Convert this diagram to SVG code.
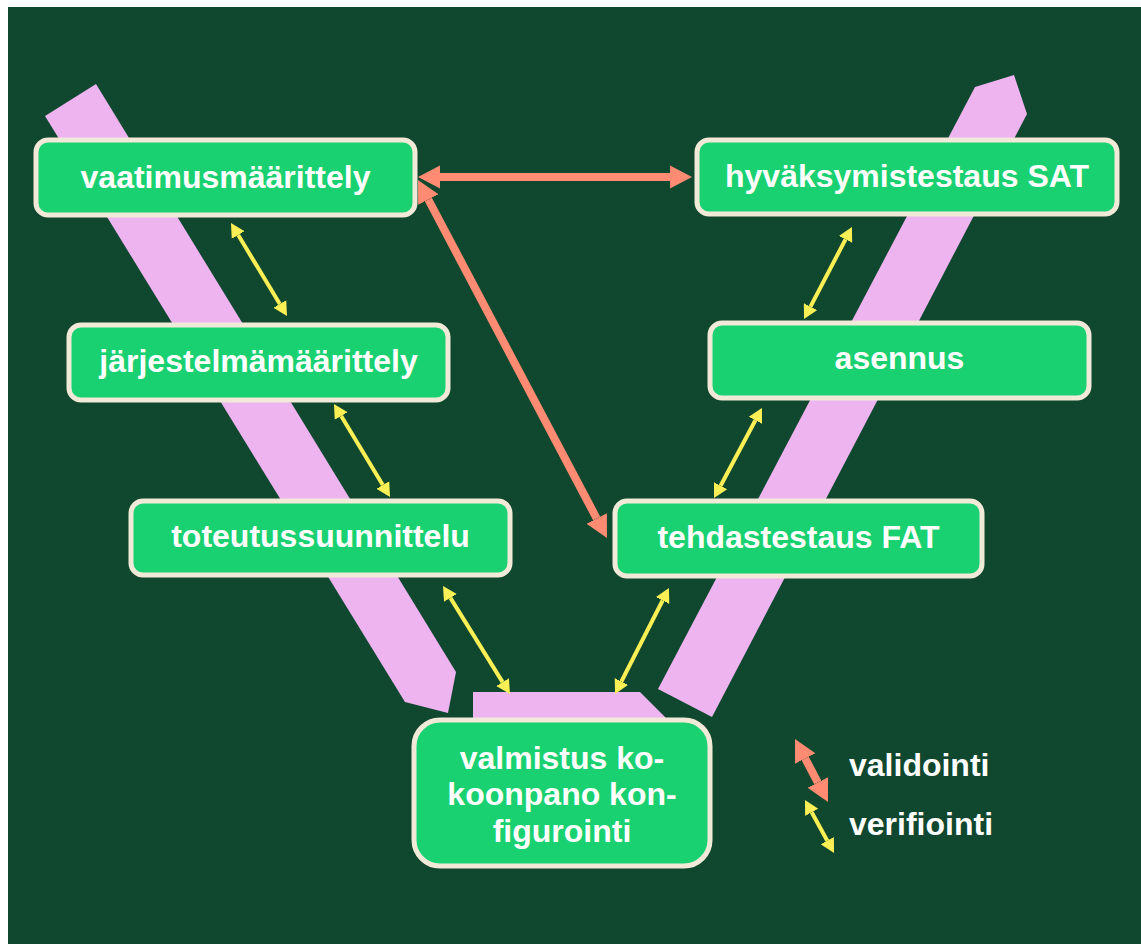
<svg xmlns="http://www.w3.org/2000/svg" width="1141" height="944" viewBox="0 0 1141 944">
  <style>
    .band { fill: #EDB4F0; }
    .box { fill: #1AD171; stroke: #F2EAD9; stroke-width: 5; }
    .label { font-family: "Liberation Sans", Arial, sans-serif; font-weight: bold; font-size: 32px; fill: #FFFFFF; text-anchor: middle; }
    .legend { font-family: "Liberation Sans", Arial, sans-serif; font-weight: bold; font-size: 32px; fill: #FFFFFF; }
    .val { stroke: #FF8C72; stroke-width: 8; fill: none; marker-start: url(#valHead); marker-end: url(#valHead); }
    .ver { stroke: #FAF055; stroke-width: 4; fill: none; marker-start: url(#verHead); marker-end: url(#verHead); }
  </style>
  <defs>
    <marker id="valHead" viewBox="0 -12 22 24" markerWidth="22" markerHeight="24" refX="0" refY="0" orient="auto-start-reverse" markerUnits="userSpaceOnUse">
      <path d="M0,-11.5 L22,0 L0,11.5 z" fill="#FF8C72"/>
    </marker>
    <marker id="verHead" viewBox="0 -8 14 16" markerWidth="14" markerHeight="16" refX="0" refY="0" orient="auto-start-reverse" markerUnits="userSpaceOnUse">
      <path d="M0,-7.5 L14,0 L0,7.5 z" fill="#FAF055"/>
    </marker>
  </defs>

  <!-- page and background -->
  <rect x="0" y="0" width="1141" height="944" fill="#FFFFFF"/>
  <rect x="8" y="7" width="1133" height="937" fill="#10472F"/>

  <!-- V-shaped bands -->
  <g id="bands">
    <polygon class="band" points="45,116 96,84 456,672 448,713 405,702"/>
    <polygon class="band" points="975,87 1014,75 1027,114 712,717 658,689"/>
    <polygon class="band" points="473,692 640,692 668,720 668,745 473,745"/>
  </g>

  <!-- connectors -->
  <g id="connectors">
    <line class="val" x1="440" y1="177" x2="670" y2="177"/>
    <line class="val" x1="428.3" y1="199.5" x2="596.7" y2="518.5"/>
    <line class="ver" x1="238.2" y1="235" x2="279.8" y2="304"/>
    <line class="ver" x1="341.2" y1="416" x2="382.8" y2="485"/>
    <line class="ver" x1="450.4" y1="597.9" x2="502.6" y2="682.1"/>
    <line class="ver" x1="662.6" y1="600.5" x2="621.4" y2="681.5"/>
    <line class="ver" x1="755.4" y1="420.3" x2="720.6" y2="485.7"/>
    <line class="ver" x1="845.5" y1="239.4" x2="810.5" y2="306.6"/>
  </g>

  <!-- phases -->
  <g id="vaatimusmaarittely">
    <rect class="box" x="36" y="140" width="379" height="75" rx="12"/>
    <text class="label" x="225.5" y="188">vaatimusmäärittely</text>
  </g>
  <g id="jarjestelmamaarittely">
    <rect class="box" x="69" y="325" width="379" height="75" rx="12"/>
    <text class="label" x="258.5" y="372">järjestelmämäärittely</text>
  </g>
  <g id="toteutussuunnittelu">
    <rect class="box" x="131" y="501" width="379" height="74" rx="12"/>
    <text class="label" x="320.5" y="547">toteutussuunnittelu</text>
  </g>
  <g id="valmistus">
    <rect class="box" x="414" y="720" width="296" height="146" rx="26"/>
    <text class="label" x="562" y="769">valmistus ko-</text>
    <text class="label" x="562" y="805">koonpano kon-</text>
    <text class="label" x="562" y="842">figurointi</text>
  </g>
  <g id="tehdastestaus">
    <rect class="box" x="615" y="501" width="367" height="75" rx="12"/>
    <text class="label" x="798.5" y="548">tehdastestaus FAT</text>
  </g>
  <g id="asennus">
    <rect class="box" x="710" y="323" width="379" height="75" rx="12"/>
    <text class="label" x="899.5" y="369">asennus</text>
  </g>
  <g id="hyvaksymistestaus">
    <rect class="box" x="697" y="140" width="420" height="74" rx="12"/>
    <text class="label" x="907" y="187">hyväksymistestaus SAT</text>
  </g>

  <!-- legend -->
  <g id="legend">
    <line class="val" x1="805.2" y1="758.5" x2="817.8" y2="782.5"/>
    <line class="ver" x1="811.7" y1="812.3" x2="827.3" y2="840.7"/>
    <text class="legend" x="849" y="776">validointi</text>
    <text class="legend" x="849" y="835">verifiointi</text>
  </g>
</svg>
